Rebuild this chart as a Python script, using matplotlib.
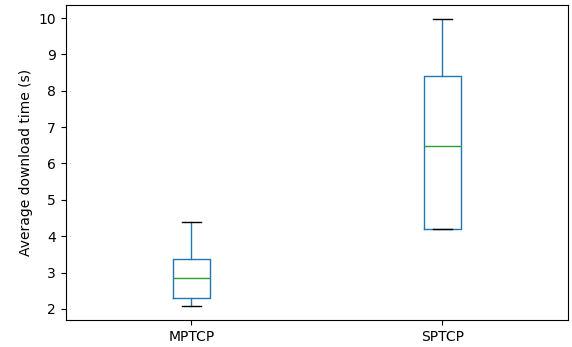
import matplotlib
matplotlib.use("Agg")
import matplotlib.pyplot as plt

# box statistics (seconds)
labels = ["MPTCP", "SPTCP"]
whisker_low = [2.09, 4.20]
q1 = [2.30, 4.20]
median = [2.86, 6.48]
q3 = [3.37, 8.40]
whisker_high = [4.39, 9.97]

stats = []
for i, name in enumerate(labels):
    stats.append(
        {
            "label": name,
            "whislo": whisker_low[i],
            "q1": q1[i],
            "med": median[i],
            "q3": q3[i],
            "whishi": whisker_high[i],
            "fliers": [],
        }
    )

fig = plt.figure(figsize=(5.72, 3.47), dpi=100)
ax = fig.add_axes([0.115, 0.078, 0.878, 0.908])

ax.bxp(
    stats,
    widths=0.15,
    showfliers=False,
    boxprops={"color": "#1f77b4"},
    whiskerprops={"color": "#1f77b4"},
    medianprops={"color": "#2ca02c"},
    capprops={"color": "k"},
)
ax.set_ylabel("Average download time (s)")

fig.savefig("out.png", dpi=100)
